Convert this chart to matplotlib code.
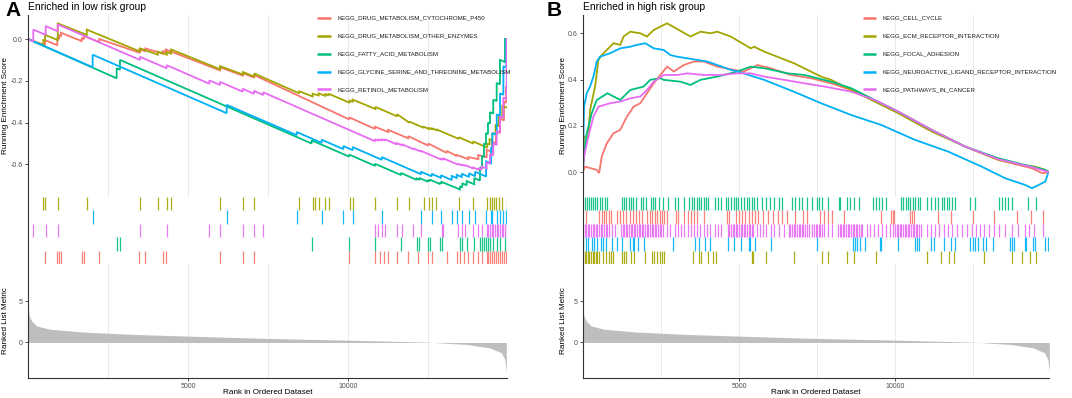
import matplotlib
matplotlib.use("Agg")
import matplotlib.pyplot as plt

plt.rcParams.update({
    "font.family": ["Liberation Sans", "DejaVu Sans"],
    "axes.unicode_minus": False,
    "axes.linewidth": 0.8,
})

# ranked list metric (shared by both panels)
metric_rank = [0, 15, 40, 114, 270, 686, 1726, 3286, 5000, 7446, 10000,
               12490, 13686, 14414, 14778, 14882, 14930]
metric_value = [5.0, 4.0, 3.2, 2.6, 2.0, 1.6, 1.26, 0.98, 0.77, 0.49, 0.28,
                0.04, -0.24, -0.65, -1.26, -2.07, -3.62]

# ---------------- panel A : enriched in low risk group ----------------
a_names = ["KEGG_DRUG_METABOLISM_CYTOCHROME_P450",
           "KEGG_DRUG_METABOLISM_OTHER_ENZYMES",
           "KEGG_FATTY_ACID_METABOLISM",
           "KEGG_GLYCINE_SERINE_AND_THREONINE_METABOLISM",
           "KEGG_RETINOL_METABOLISM"]

a_p450_x = [0, 531, 531, 915, 915, 977, 977, 1030, 1030, 1676, 1676, 1748, 1748,
            2225, 2225, 3474, 3474, 3661, 3661, 4204, 4204, 4298, 4298, 5992, 5992,
            6701, 6701, 7053, 7053, 10028, 10028, 10830, 10830, 11245, 11245,
            11869, 11869, 12493, 12493, 13068, 13068, 13381, 13381, 13742, 13742,
            14054, 14054, 14316, 14316, 14481, 14481, 14606, 14606, 14731, 14731,
            14856, 14856, 14919, 14919]
a_p450_y = [0.0, -0.03, -0.005, -0.03, 0.005, 0.0, 0.018, 0.015, 0.03, -0.01, 0.005,
            0.0, 0.015, -0.015, 0.0, -0.065, -0.05, -0.058, -0.045, -0.07, -0.058,
            -0.063, -0.05, -0.15, -0.135, -0.175, -0.162, -0.185, -0.172, -0.385,
            -0.375, -0.43, -0.42, -0.445, -0.435, -0.475, -0.465, -0.51, -0.5,
            -0.545, -0.535, -0.56, -0.555, -0.575, -0.565, -0.575, -0.555, -0.565,
            -0.53, -0.54, -0.49, -0.5, -0.44, -0.45, -0.38, -0.39, -0.3, -0.305,
            -0.23]

a_enzymes_x = [0, 478, 478, 531, 531, 928, 928, 1834, 1834, 3500, 3500, 4053, 4053,
               4334, 4334, 4469, 4469, 6000, 6000, 6709, 6709, 7063, 7063, 8469, 8469,
               8884, 8884, 9072, 9072, 9281, 9281, 9384, 9384, 10041, 10041, 10134,
               10134, 10844, 10844, 11522, 11522, 11897, 11897, 12353, 12353, 12509,
               12509, 12616, 12616, 12741, 12741, 13447, 13447, 13897, 13897, 14334,
               14334, 14406, 14406, 14491, 14491, 14594, 14594, 14697, 14697, 14803,
               14803, 14930]
a_enzymes_y = [0.0, -0.03, -0.005, -0.008, 0.02, -0.005, 0.075, 0.02, 0.045, -0.06,
               -0.045, -0.075, -0.06, -0.075, -0.062, -0.07, -0.05, -0.145, -0.13,
               -0.17, -0.158, -0.18, -0.165, -0.26, -0.25, -0.275, -0.262, -0.27,
               -0.26, -0.272, -0.262, -0.27, -0.262, -0.305, -0.295, -0.3, -0.29,
               -0.335, -0.325, -0.37, -0.36, -0.4, -0.395, -0.425, -0.42, -0.43,
               -0.425, -0.432, -0.428, -0.436, -0.432, -0.478, -0.47, -0.5, -0.49,
               -0.52, -0.5, -0.505, -0.48, -0.485, -0.45, -0.457, -0.41, -0.417,
               -0.37, -0.377, -0.32, -0.328]

a_fatty_x = [0, 2768, 2768, 2871, 2871, 8854, 8854, 10028, 10028, 10830, 10830,
             11642, 11642, 12131, 12131, 12213, 12213, 12475, 12475, 12547, 12547,
             12859, 12859, 12912, 12912, 13482, 13482, 13554, 13554, 13691, 13691,
             13929, 13929, 14107, 14107, 14170, 14170, 14232, 14232, 14294, 14294,
             14357, 14357, 14419, 14419, 14522, 14522, 14628, 14628, 14731, 14731,
             14887, 14887]
a_fatty_y = [0.0, -0.188, -0.14, -0.147, -0.1, -0.5, -0.485, -0.563, -0.553, -0.607,
             -0.597, -0.651, -0.641, -0.674, -0.667, -0.672, -0.665, -0.682, -0.675,
             -0.68, -0.673, -0.694, -0.687, -0.691, -0.684, -0.72, -0.705, -0.71,
             -0.69, -0.7, -0.68, -0.695, -0.665, -0.677, -0.615, -0.62, -0.56,
             -0.565, -0.5, -0.505, -0.45, -0.455, -0.4, -0.405, -0.35, -0.357,
             -0.29, -0.297, -0.21, -0.217, -0.1, -0.11, 0.0]

a_glycine_x = [0, 2019, 2019, 6202, 6202, 8386, 8386, 9166, 9166, 9841, 9841, 10134,
               10134, 11041, 11041, 12266, 12266, 12600, 12600, 12891, 12891, 13225,
               13225, 13381, 13381, 13537, 13537, 13766, 13766, 13953, 13953, 14297,
               14297, 14453, 14453, 14494, 14494, 14631, 14631, 14734, 14734, 14838,
               14838, 14930, 14930]
a_glycine_y = [0.0, -0.135, -0.075, -0.355, -0.315, -0.46, -0.445, -0.497, -0.482,
               -0.527, -0.512, -0.532, -0.517, -0.578, -0.565, -0.647, -0.635, -0.657,
               -0.645, -0.665, -0.652, -0.675, -0.655, -0.665, -0.65, -0.66, -0.645,
               -0.66, -0.643, -0.656, -0.635, -0.658, -0.585, -0.595, -0.52, -0.523,
               -0.45, -0.459, -0.36, -0.367, -0.26, -0.267, -0.13, -0.136, 0.0]

a_retinol_x = [0, 165, 165, 552, 552, 927, 927, 3496, 3496, 4329, 4329, 5659, 5659,
               5992, 5992, 6701, 6701, 7053, 7053, 7344, 7344, 10830, 10830, 10933,
               10933, 11039, 11039, 11142, 11142, 11507, 11507, 11663, 11663, 12025,
               12025, 12266, 12266, 12912, 12912, 12962, 12962, 13430, 13430, 13536,
               13536, 13639, 13639, 13898, 13898, 14054, 14054, 14160, 14160, 14316,
               14316, 14419, 14419, 14522, 14522, 14628, 14628, 14731, 14731, 14834,
               14834, 14940, 14940]
a_retinol_y = [0.0, -0.011, 0.045, 0.02, 0.062, 0.037, 0.07, -0.1, -0.085, -0.14,
               -0.125, -0.214, -0.198, -0.22, -0.205, -0.252, -0.238, -0.262, -0.248,
               -0.268, -0.255, -0.489, -0.48, -0.487, -0.479, -0.486, -0.479, -0.486,
               -0.48, -0.504, -0.498, -0.508, -0.503, -0.527, -0.523, -0.539, -0.535,
               -0.578, -0.573, -0.576, -0.571, -0.602, -0.597, -0.604, -0.6, -0.607,
               -0.603, -0.62, -0.615, -0.625, -0.618, -0.625, -0.61, -0.62, -0.59,
               -0.597, -0.55, -0.557, -0.5, -0.507, -0.44, -0.447, -0.37, -0.377,
               -0.28, -0.287, 0.0]

a_p450_hits = [531, 915, 977, 1030, 1676, 1748, 2225, 3474, 3661, 4204, 4298, 5992,
               6701, 7053, 10028, 10830, 10986, 11111, 11245, 11507, 11869, 12181,
               12493, 12600, 13068, 13381, 13482, 13607, 13742, 13898, 14054, 14160,
               14316, 14366, 14419, 14481, 14544, 14606, 14669, 14731, 14794, 14856,
               14919]
a_enzymes_hits = [478, 531, 928, 1834, 3500, 4053, 4334, 4469, 6000, 6709, 7063,
                  8469, 8884, 8947, 9072, 9281, 9384, 10041, 10134, 10844, 11522,
                  11897, 12353, 12509, 12616, 12741, 13447, 13897, 14334, 14406,
                  14491, 14541, 14594, 14697, 14803, 14940]
a_fatty_hits = [2768, 2871, 8854, 10028, 10830, 11642, 12131, 12213, 12475, 12547,
                12859, 12912, 13482, 13554, 13691, 13929, 14107, 14170, 14232, 14294,
                14357, 14419, 14522, 14628, 14731, 14887]
a_glycine_hits = [2019, 6202, 8386, 9166, 9841, 10134, 11041, 12266, 12600, 12891,
                  13225, 13381, 13537, 13766, 13953, 14297, 14453, 14494, 14631,
                  14734, 14838, 14930]
a_retinol_hits = [165, 552, 927, 3496, 4329, 5659, 5992, 6701, 7053, 7344, 10830,
                  10933, 11039, 11142, 11507, 11663, 12025, 12266, 12912, 12962,
                  13430, 13536, 13639, 13898, 14054, 14160, 14316, 14366, 14419,
                  14472, 14522, 14575, 14628, 14678, 14731, 14784, 14834, 14887,
                  14940]

# ---------------- panel B : enriched in high risk group ----------------
b_names = ["KEGG_CELL_CYCLE",
           "KEGG_ECM_RECEPTOR_INTERACTION",
           "KEGG_FOCAL_ADHESION",
           "KEGG_NEUROACTIVE_LIGAND_RECEPTOR_INTERACTION",
           "KEGG_PATHWAYS_IN_CANCER"]

b_cycle_x = [0, 75, 450, 525, 610, 771, 985, 1200, 1414, 1628, 1842, 2056, 2271,
             2699, 2913, 3234, 3556, 3877, 4305, 4841, 5162, 5484, 5591, 6019, 6662,
             7304, 7947, 8589, 9339, 10089, 11160, 12231, 13302, 14373, 14694, 14930]
b_cycle_y = [0.0, 0.024, 0.01, -0.004, 0.068, 0.125, 0.168, 0.183, 0.24, 0.283,
             0.298, 0.341, 0.384, 0.456, 0.435, 0.463, 0.478, 0.478, 0.456, 0.442,
             0.435, 0.456, 0.463, 0.449, 0.42, 0.406, 0.384, 0.355, 0.312, 0.262,
             0.183, 0.111, 0.053, 0.017, -0.004, 0.0]

b_ecm_x = [0, 43, 182, 236, 396, 503, 610, 771, 985, 1200, 1307, 1521, 1842, 2056,
           2271, 2592, 2699, 3449, 3770, 4091, 4305, 4734, 5376, 5484, 5805, 6769,
           7626, 7947, 8589, 9446, 10089, 11160, 12231, 13302, 14052, 14480, 14801,
           14930]
b_ecm_y = [0.0, 0.154, 0.154, 0.269, 0.37, 0.485, 0.506, 0.528, 0.557, 0.55, 0.586,
           0.607, 0.6, 0.586, 0.614, 0.636, 0.643, 0.586, 0.607, 0.6, 0.607, 0.586,
           0.535, 0.542, 0.521, 0.47, 0.413, 0.399, 0.355, 0.298, 0.255, 0.176,
           0.111, 0.053, 0.032, 0.024, 0.01, 0.0]

b_focal_x = [0, 43, 129, 289, 450, 793, 1200, 1521, 1949, 2163, 2485, 2592, 3127,
             3449, 3770, 4305, 4948, 5376, 5805, 6555, 7090, 7947, 8589, 9339, 10089,
             11160, 12231, 13302, 14373, 14801, 14930]
b_focal_y = [0.0, 0.068, 0.168, 0.255, 0.312, 0.341, 0.312, 0.355, 0.37, 0.399,
             0.406, 0.399, 0.391, 0.377, 0.399, 0.413, 0.435, 0.456, 0.449, 0.427,
             0.42, 0.391, 0.363, 0.312, 0.262, 0.183, 0.111, 0.06, 0.024, 0.01, 0.0]

b_neuro_x = [0, 43, 129, 236, 343, 450, 557, 878, 1200, 1521, 1735, 2003, 2271,
             2592, 2806, 3020, 3342, 3984, 4305, 4734, 4948, 5805, 6876, 7626, 8589,
             9553, 10624, 11695, 12766, 13516, 14158, 14373, 14587, 14801, 14887,
             14930]
b_neuro_y = [0.0, 0.283, 0.341, 0.37, 0.413, 0.478, 0.499, 0.514, 0.535, 0.542,
             0.55, 0.557, 0.535, 0.528, 0.506, 0.499, 0.492, 0.478, 0.463, 0.442,
             0.435, 0.399, 0.341, 0.298, 0.247, 0.204, 0.14, 0.089, 0.024, -0.026,
             -0.055, -0.069, -0.055, -0.04, -0.004, 0.0]

b_cancer_x = [0, 43, 182, 343, 503, 878, 1200, 1521, 1842, 2056, 2271, 2592, 3020,
              3342, 3877, 4413, 4948, 5376, 5805, 6447, 7090, 7733, 8589, 9339,
              10089, 11160, 12231, 13302, 14373, 14930]
b_cancer_y = [0.0, 0.068, 0.154, 0.24, 0.283, 0.298, 0.305, 0.319, 0.327, 0.355,
              0.391, 0.42, 0.42, 0.427, 0.42, 0.42, 0.427, 0.427, 0.413, 0.399,
              0.384, 0.37, 0.348, 0.312, 0.262, 0.183, 0.111, 0.056, 0.022, 0.0]

b_cycle_hits = [113, 524, 607, 679, 761, 833, 915, 1090, 1193, 1296, 1399, 1502, 1605,
                1708, 1810, 1913, 2068, 2150, 2222, 2304, 2376, 2459, 2531, 2613, 2685,
                2973, 3045, 3251, 3354, 3457, 3560, 3663, 3868, 4620, 4692, 4897, 5000,
                5103, 5206, 5309, 5412, 5515, 5618, 5772, 5926, 6081, 6235, 6390, 6544,
                6801, 7058, 7191, 7603, 7706, 7840, 7984, 8375, 9527, 9867, 9918, 9970,
                10484, 10536, 10587, 11359, 11770, 12470, 13159, 13880, 14343, 14730]
b_ecm_hits = [10, 61, 113, 164, 216, 267, 318, 370, 421, 473, 524, 648, 751, 854, 915,
              956, 1245, 1327, 1399, 1553, 1656, 1985, 2222, 2294, 2376, 2459, 2531,
              2613, 3529, 3714, 3796, 4023, 4177, 4280, 5412, 5463, 5854, 6750, 7654,
              7840, 8457, 8683, 9383, 11030, 11462, 11719, 11873, 12851, 13718, 14038,
              14304, 14517]
b_focal_hits = [61, 133, 195, 267, 339, 401, 473, 545, 627, 709, 781, 1245, 1317, 1399,
                1471, 1553, 1625, 1708, 1862, 1944, 2016, 2171, 2253, 2325, 2428, 2562,
                2737, 2942, 3045, 3251, 3405, 3488, 3560, 3642, 3714, 3796, 3868, 3940,
                4023, 4229, 4332, 4434, 4589, 4661, 4743, 4825, 4897, 4969, 5052, 5155,
                5258, 5330, 5412, 5484, 5566, 5721, 5854, 5978, 6132, 6287, 6390, 6698,
                6801, 6934, 7016, 7160, 7346, 7500, 7572, 7654, 7860, 8189, 8220, 8457,
                8560, 8683, 8838, 9280, 9383, 9486, 9589, 9712, 10175, 10247, 10330,
                10402, 10484, 10556, 10638, 10721, 10793, 11030, 11132, 11256, 11379,
                11482, 11565, 11647, 11719, 11822, 11925, 12388, 12542, 13314, 13417,
                13499, 13602, 13725, 14240, 14517]
b_neuro_hits = [10, 92, 164, 298, 370, 442, 576, 648, 730, 936, 1090, 1245, 1502, 1605,
                1656, 1759, 1965, 2891, 3591, 3714, 3920, 4074, 4640, 4846, 5052, 5309,
                5340, 5515, 6029, 7500, 8632, 8704, 8786, 8869, 9044, 9507, 9558,
                10072, 10618, 10690, 10762, 11153, 11235, 11565, 11770, 11925, 12388,
                12470, 12542, 12645, 12800, 12902, 13129, 13674, 13725, 13808, 14137,
                14188, 14394, 14466, 14790, 14880]
b_cancer_hits = [10, 61, 113, 164, 216, 267, 318, 370, 421, 473, 524, 576, 627, 679,
                 730, 781, 833, 936, 1039, 1224, 1275, 1327, 1378, 1430, 1481, 1533,
                 1584, 1636, 1687, 1738, 1790, 1841, 1893, 1944, 1996, 2047, 2099, 2150,
                 2201, 2253, 2304, 2356, 2407, 2459, 2510, 2562, 2685, 2788, 2942, 3045,
                 3148, 3251, 3354, 3457, 3560, 3663, 3766, 3868, 3971, 4074, 4229, 4332,
                 4434, 4640, 4692, 4743, 4795, 4846, 4897, 4949, 5000, 5052, 5103, 5155,
                 5206, 5258, 5309, 5361, 5412, 5463, 5566, 5669, 5772, 5875, 6029, 6132,
                 6287, 6441, 6595, 6647, 6698, 6750, 6801, 6853, 6904, 6955, 7007, 7058,
                 7110, 7191, 7243, 7346, 7397, 7449, 7500, 7552, 7603, 7654, 7706, 7860,
                 7963, 8169, 8220, 8272, 8323, 8375, 8426, 8477, 8529, 8580, 8632, 8683,
                 8735, 8786, 8838, 8889, 8940, 9095, 9198, 9321, 9455, 9589, 9712, 9815,
                 9939, 9990, 10042, 10093, 10144, 10196, 10247, 10299, 10350, 10402,
                 10453, 10505, 10556, 10608, 10659, 10710, 10762, 10813, 11030, 11153,
                 11256, 11410, 11565, 11688, 11822, 11976, 12130, 12285, 12439, 12573,
                 12717, 12851, 13005, 13159, 13314, 13520, 13725, 13931, 14137, 14291,
                 14446, 14730]

COLORS = ["#F8766D", "#A3A500", "#00BF7D", "#00B0F6", "#E76BF3"]
W, H = 1072, 398
GRID = "#EBEBEB"
AXCOL = "#333333"
TICKCOL = "#4D4D4D"

fig = plt.figure(figsize=(W / 100, H / 100), dpi=100)


def px_axes(x0, x1, y0, y1):
    return fig.add_axes([x0 / W, 1 - y1 / H, (x1 - x0) / W, (y1 - y0) / H])


def style_axes(ax, xmax, bottom):
    ax.set_xlim(0, xmax)
    for s in ["top", "right"]:
        ax.spines[s].set_visible(False)
    ax.spines["left"].set_color(AXCOL)
    ax.spines["bottom"].set_visible(bottom)
    ax.spines["bottom"].set_color(AXCOL)
    ax.set_xticks([5000, 10000])
    ax.set_xticks([2500, 7500, 12500], minor=True)
    ax.tick_params(axis="x", which="minor", length=0)
    ax.tick_params(colors=AXCOL, labelcolor=TICKCOL, labelsize=5, length=2.5,
                   width=0.6, pad=1.5)


def panel(x0, x1, xmax, title, letter, letter_x, lab_x, names, curves, hits, rows,
          ylim, yticks, legend_x):
    # running enrichment score
    ax = px_axes(x0, x1, 15, 197)
    style_axes(ax, xmax, False)
    ax.grid(True, axis="x", which="both", color=GRID, lw=0.7)
    ax.set_axisbelow(True)
    ax.tick_params(axis="x", which="both", length=0, labelbottom=False)
    for (cx, cy), col in zip(curves, COLORS):
        ax.plot(cx, cy, color=col, lw=1.3, solid_joinstyle="miter")
    ax.set_ylim(*ylim)
    ax.set_yticks(yticks)
    ax.set_yticklabels([f"{v:.1f}" for v in yticks])
    legend_rows = [0.985, 0.886, 0.787, 0.688, 0.591]
    for name, col, ly in zip(names, COLORS, legend_rows):
        ax.plot([legend_x, legend_x + 0.029], [ly, ly], transform=ax.transAxes,
                color=col, lw=1.8, clip_on=False, solid_capstyle="butt")
        ax.text(legend_x + 0.042, ly, name, transform=ax.transAxes, va="center",
                fontsize=4.4, color="#1A1A1A")

    # hit rug
    axr = px_axes(x0, x1, 197, 264)
    style_axes(axr, xmax, False)
    axr.tick_params(axis="both", which="both", length=0, labelbottom=False,
                    labelleft=False)
    for h, col, r in zip(hits, COLORS, rows):
        axr.vlines(h, r, r + 1, color=col, lw=0.9, alpha=0.9)
    axr.set_ylim(0, 5)

    # ranked list metric
    axm = px_axes(x0, x1, 264, 377.5)
    style_axes(axm, xmax, True)
    axm.grid(True, axis="x", which="both", color=GRID, lw=0.7)
    axm.set_axisbelow(True)
    axm.fill_between(metric_rank, 0, metric_value, color="#BEBEBE", lw=0)
    axm.set_ylim(-4.24, 9.5)
    axm.set_yticks([0, 5])

    fig.text(x0 / W, 1 - 6.5 / H, title, fontsize=7.4, va="center", ha="left")
    fig.text(letter_x / W, 1 - 11 / H, letter, fontsize=15, fontweight="bold",
             ha="center", va="center")
    fig.text(lab_x / W, 1 - 106 / H, "Running Enrichment Score", rotation=90,
             fontsize=5.9, ha="center", va="center")
    fig.text(lab_x / W, 1 - 321 / H, "Ranked List Metric", rotation=90,
             fontsize=5.9, ha="center", va="center")
    fig.text((x0 + x1) / 2 / W, 1 - 392 / H, "Rank in Ordered Dataset",
             fontsize=5.9, ha="center", va="center")


panel(28, 507.3, 14960, "Enriched in low risk group", "A", 13, 5.5, a_names,
      [(a_p450_x, a_p450_y), (a_enzymes_x, a_enzymes_y), (a_fatty_x, a_fatty_y),
       (a_glycine_x, a_glycine_y), (a_retinol_x, a_retinol_y)],
      [a_p450_hits, a_enzymes_hits, a_fatty_hits, a_glycine_hits, a_retinol_hits],
      [0, 4, 1, 3, 2], (-0.756, 0.115), [-0.6, -0.4, -0.2, 0.0], 0.6035)

panel(582.7, 1049.4, 14930, "Enriched in high risk group", "B", 554, 563.5, b_names,
      [(b_cycle_x, b_cycle_y), (b_ecm_x, b_ecm_y), (b_focal_x, b_focal_y),
       (b_neuro_x, b_neuro_y), (b_cancer_x, b_cancer_y)],
      [b_cycle_hits, b_ecm_hits, b_focal_hits, b_neuro_hits, b_cancer_hits],
      [3, 0, 4, 1, 2], (-0.107, 0.679), [0.0, 0.2, 0.4, 0.6], 0.6)

fig.savefig("out.png", dpi=100)
